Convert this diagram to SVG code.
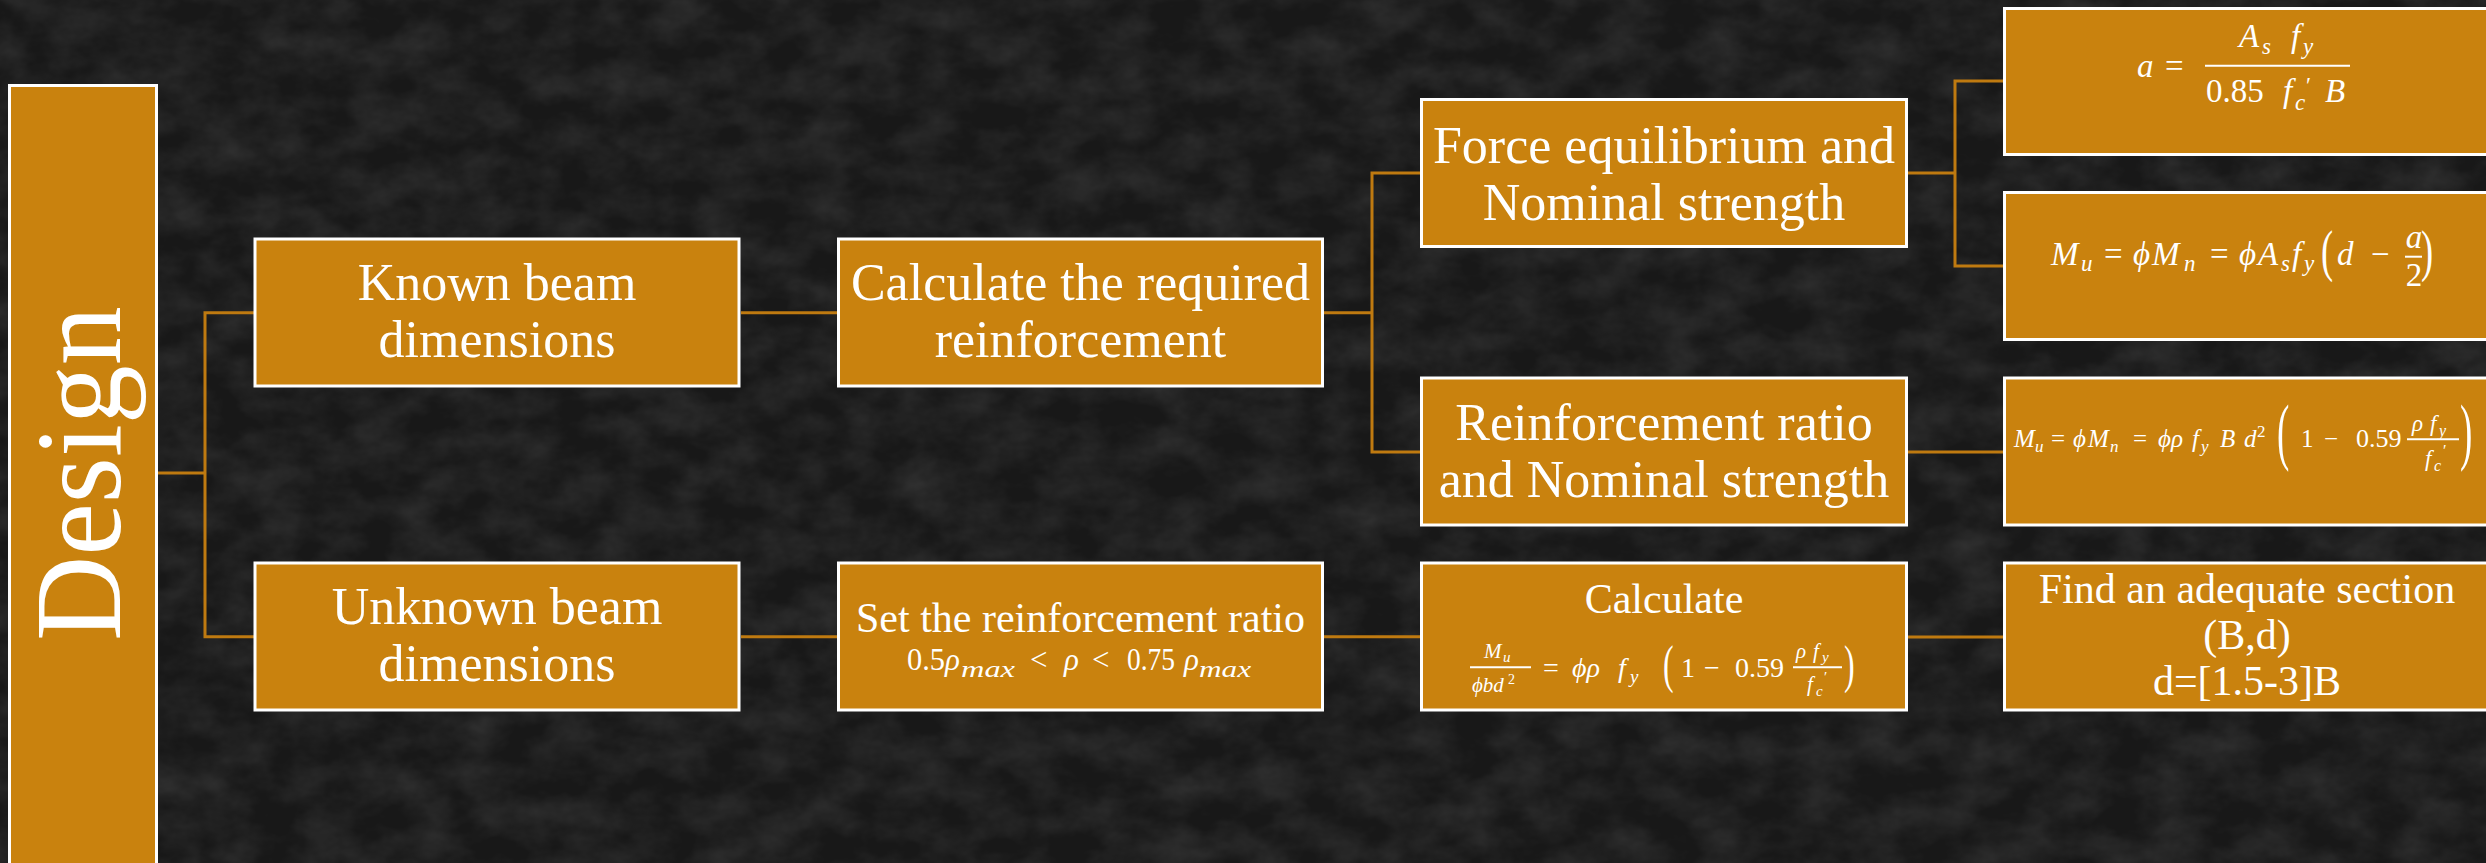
<svg xmlns="http://www.w3.org/2000/svg" width="2486" height="863" viewBox="0 0 2486 863">
<defs>
<style>
.box{fill:#C9820E;stroke:#FFFFFF;stroke-width:3}
.conn{fill:none;stroke:#BF7A10;stroke-width:3}
.lbl{font-family:"Liberation Serif","DejaVu Serif",serif;fill:#FFFFFF;text-anchor:middle}
.big{font-size:52px}
.mid{font-size:42px}
.m{font-family:"Liberation Serif","DejaVu Serif",serif;fill:#FFFFFF;font-style:italic}
.r{font-family:"Liberation Serif","DejaVu Serif",serif;fill:#FFFFFF;font-style:normal}
.c{text-anchor:middle}
.bar{stroke:#FFFFFF;stroke-width:2}
</style>
<filter id="grain" filterUnits="userSpaceOnUse" x="0" y="0" width="2486" height="863">
<feTurbulence type="fractalNoise" baseFrequency="0.02 0.03" numOctaves="4" seed="7" result="t"/>
<feColorMatrix in="t" type="matrix" values="0 0 0 0 0.5  0 0 0 0 0.5  0 0 0 0 0.5  0 0 0 1 -0.3"/>
</filter>
</defs>
<rect x="0" y="0" width="2486" height="863" fill="#181818"/>
<rect x="0" y="0" width="2486" height="863" fill="#fff" filter="url(#grain)" opacity="0.22"/>

<g id="connectors">
<path class="conn" d="M158,473 H205 M254,312.7 H205 V636.7 H254"/>
<path class="conn" d="M741,312.7 H837 M741,636.7 H837"/>
<path class="conn" d="M1324,312.7 H1372 M1420,173 H1372 V452 H1420"/>
<path class="conn" d="M1324,636.7 H1420"/>
<path class="conn" d="M1908,173 H1955 M2003,81 H1955 V266 H2003"/>
<path class="conn" d="M1908,452 H2003 M1908,637 H2003"/>
</g>

<g id="design">
<rect class="box" x="9.5" y="85.5" width="147" height="800"/>
<text class="lbl" font-size="122" transform="translate(120,473.5) rotate(-90)" x="0" y="0" textLength="335" lengthAdjust="spacingAndGlyphs">Design</text>
</g>

<g id="known">
<rect class="box" x="255" y="239" width="484" height="147"/>
<text class="lbl big" x="497" y="300">Known beam</text>
<text class="lbl big" x="497" y="357">dimensions</text>
</g>

<g id="unknown">
<rect class="box" x="255" y="563" width="484" height="147"/>
<text class="lbl big" x="497" y="624">Unknown beam</text>
<text class="lbl big" x="497" y="681">dimensions</text>
</g>

<g id="calc-required">
<rect class="box" x="838.5" y="239" width="484" height="147"/>
<text class="lbl big" x="1080.5" y="300">Calculate the required</text>
<text class="lbl big" x="1080.5" y="357">reinforcement</text>
</g>

<g id="set-ratio">
<rect class="box" x="838.5" y="563" width="484" height="147"/>
<text class="lbl mid" x="1080.5" y="632">Set the reinforcement ratio</text>
<text class="r" font-size="31" x="907" y="670" textLength="38" lengthAdjust="spacingAndGlyphs">0.5</text>
<text class="m" font-size="31" x="945" y="670">ρ</text>
<text class="m" font-size="23" x="961" y="677" textLength="54" lengthAdjust="spacingAndGlyphs">max</text>
<text class="r" font-size="31" y="670"><tspan x="1030">&lt;</tspan><tspan class="m" x="1064">ρ</tspan><tspan x="1092">&lt;</tspan></text>
<text class="r" font-size="31" x="1127" y="670" textLength="48" lengthAdjust="spacingAndGlyphs">0.75</text>
<text class="m" font-size="31" x="1184" y="670">ρ</text>
<text class="m" font-size="23" x="1199" y="677" textLength="52" lengthAdjust="spacingAndGlyphs">max</text>
</g>

<g id="force">
<rect class="box" x="1421.5" y="99.5" width="485" height="147"/>
<text class="lbl big" x="1664" y="162.7">Force equilibrium and</text>
<text class="lbl big" x="1664" y="220">Nominal strength</text>
</g>

<g id="ratio">
<rect class="box" x="1421.5" y="378" width="485" height="147"/>
<text class="lbl big" x="1664" y="440">Reinforcement ratio</text>
<text class="lbl big" x="1664" y="497">and Nominal strength</text>
</g>

<g id="calculate">
<rect class="box" x="1421.5" y="563" width="485" height="147"/>
<text class="lbl mid" x="1664" y="613">Calculate</text>
<line class="bar" x1="1470" y1="667.3" x2="1531" y2="667.3" stroke-width="1.8"/>
<text class="m" font-size="21" y="658"><tspan x="1484">M</tspan><tspan x="1503" y="662" font-size="15">u</tspan></text>
<text class="m" font-size="21" y="691.7"><tspan x="1472">ϕbd</tspan><tspan class="r" x="1508" y="684" font-size="14">2</tspan></text>
<text class="r" font-size="28" y="677"><tspan x="1543">=</tspan><tspan class="m" x="1572">ϕρ</tspan><tspan class="m" x="1618">f</tspan><tspan class="m" x="1630" y="683" font-size="19">y</tspan><tspan x="1681" y="677">1</tspan><tspan x="1704">−</tspan><tspan x="1735">0.59</tspan></text>
<text class="r" x="0" y="0" font-size="53" transform="translate(1663,681.5) scale(0.6,1)">(</text>
<line class="bar" x1="1793" y1="667.3" x2="1842" y2="667.3" stroke-width="1.8"/>
<text class="m" font-size="21" y="658"><tspan x="1796">ρ</tspan><tspan x="1813">f</tspan><tspan x="1822" y="662" font-size="15">y</tspan></text>
<text class="m" font-size="21" y="691"><tspan x="1807">f</tspan><tspan x="1816" y="696" font-size="15">c</tspan><tspan class="r" x="1824" y="682" font-size="15">′</tspan></text>
<text class="r" x="0" y="0" font-size="53" transform="translate(1844,681.5) scale(0.6,1)">)</text>
</g>

<g id="formula-a">
<rect class="box" x="2004.5" y="8.5" width="500" height="146"/>
<text class="m" font-size="33" y="77"><tspan x="2137">a</tspan><tspan class="r" x="2165">=</tspan></text>
<line class="bar" x1="2205" y1="65.7" x2="2350" y2="65.7"/>
<text class="m" font-size="33" y="47"><tspan x="2239">A</tspan><tspan x="2262" y="54" font-size="23">s</tspan><tspan x="2291" y="47">f</tspan><tspan x="2303" y="54" font-size="23">y</tspan></text>
<text class="r" font-size="33" y="102"><tspan x="2206">0.85</tspan><tspan class="m" x="2283">f</tspan><tspan class="m" x="2295" y="110" font-size="23">c</tspan><tspan x="2306" y="93" font-size="23">′</tspan><tspan class="m" x="2325" y="102">B</tspan></text>
</g>

<g id="formula-mu1">
<rect class="box" x="2004.5" y="192.5" width="500" height="147"/>
<text class="m" font-size="33" y="265"><tspan x="2051">M</tspan><tspan x="2081" y="271" font-size="23">u</tspan><tspan class="r" x="2104" y="265">=</tspan><tspan x="2133">ϕ</tspan><tspan x="2152">M</tspan><tspan x="2184" y="271" font-size="23">n</tspan><tspan class="r" x="2210" y="265">=</tspan><tspan x="2239">ϕ</tspan><tspan x="2258">A</tspan><tspan x="2281" y="271" font-size="23">s</tspan><tspan x="2292" y="265">f</tspan><tspan x="2304" y="271" font-size="23">y</tspan><tspan x="2337" y="265">d</tspan><tspan class="r" x="2371">−</tspan></text>
<text class="r" x="0" y="0" font-size="56" transform="translate(2321,270) scale(0.65,1)">(</text>
<line class="bar" x1="2405" y1="256.7" x2="2422" y2="256.7"/>
<text class="m c" font-size="33" x="2414" y="248">a</text>
<text class="r c" font-size="33" x="2414" y="285.7">2</text>
<text class="r" x="0" y="0" font-size="56" transform="translate(2421,270) scale(0.65,1)">)</text>
</g>

<g id="formula-mu2">
<rect class="box" x="2004.5" y="378" width="500" height="147"/>
<text class="m" font-size="25" y="446.5"><tspan x="2014">M</tspan><tspan x="2035" y="452" font-size="17">u</tspan><tspan class="r" x="2051" y="446.5">=</tspan><tspan x="2073">ϕ</tspan><tspan x="2088">M</tspan><tspan x="2110" y="452" font-size="17">n</tspan><tspan class="r" x="2133" y="446.5">=</tspan><tspan x="2158">ϕρ</tspan><tspan x="2192">f</tspan><tspan x="2201" y="452" font-size="17">y</tspan><tspan x="2220" y="446.5">B</tspan><tspan x="2244">d</tspan><tspan class="r" x="2257" y="437" font-size="17">2</tspan><tspan class="r" x="2301" y="446.5">1</tspan><tspan class="r" x="2324">−</tspan><tspan class="r" x="2356" font-size="26">0.59</tspan></text>
<text class="r" x="0" y="0" font-size="74" transform="translate(2277,456) scale(0.5,1)">(</text>
<line class="bar" x1="2407" y1="439.3" x2="2459" y2="439.3" stroke-width="1.6"/>
<text class="m" font-size="23" y="431"><tspan x="2412">ρ</tspan><tspan x="2430">f</tspan><tspan x="2439" y="436" font-size="16">y</tspan></text>
<text class="m" font-size="23" y="466"><tspan x="2425">f</tspan><tspan x="2434" y="471" font-size="16">c</tspan><tspan class="r" x="2443" y="456" font-size="16">′</tspan></text>
<text class="r" x="0" y="0" font-size="74" transform="translate(2460,456) scale(0.5,1)">)</text>
</g>

<g id="find-section">
<rect class="box" x="2004.5" y="563" width="500" height="147"/>
<text class="lbl mid" x="2247" y="603">Find an adequate section</text>
<text class="lbl mid" x="2247" y="649">(B,d)</text>
<text class="lbl mid" x="2247" y="695">d=[1.5-3]B</text>
</g>
</svg>
